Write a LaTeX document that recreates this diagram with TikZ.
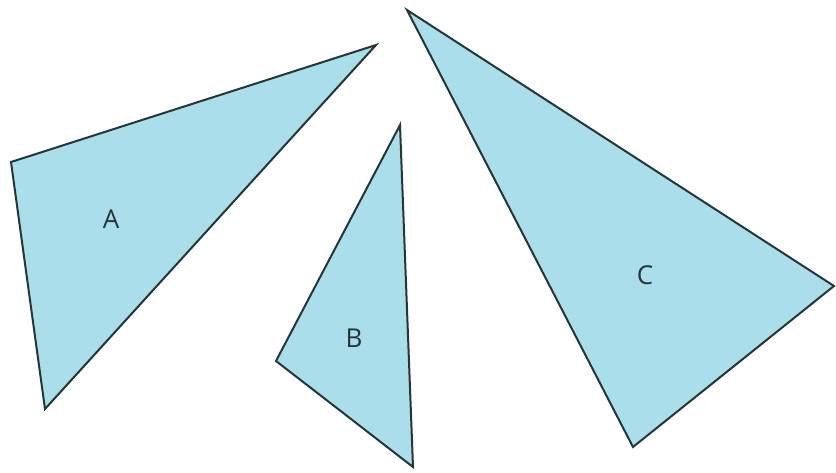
\documentclass[tikz,border=0pt]{standalone}
\usepackage{fontspec}
\setmainfont{Open Sans}
\definecolor{trifill}{HTML}{A9DEEA}
\definecolor{triline}{HTML}{263536}
\begin{document}
\begin{tikzpicture}[x=1pt,y=-1pt,
  tri/.style={fill=trifill,draw=triline,line width=2pt,line join=miter},
  lbl/.style={font=\fontsize{26}{28}\selectfont,text=triline,inner sep=0pt}]
\useasboundingbox (0,0) rectangle (836,473);
\coordinate (a1) at (11,162);
\coordinate (a2) at (376,45);
\coordinate (a3) at (45,409);
\coordinate (b1) at (400,125);
\coordinate (b2) at (276,361);
\coordinate (b3) at (413,467);
\coordinate (c1) at (407,10);
\coordinate (c2) at (834,286);
\coordinate (c3) at (633,447);
\draw[tri] (a1) -- (a2) -- (a3) -- cycle;
\draw[tri] (b1) -- (b2) -- (b3) -- cycle;
\draw[tri] (c1) -- (c2) -- (c3) -- cycle;
\node[lbl] (la) at (111,219) {A};
\node[lbl] (lb) at (354,338) {B};
\node[lbl] (lc) at (645,275) {C};
\end{tikzpicture}
\end{document}
